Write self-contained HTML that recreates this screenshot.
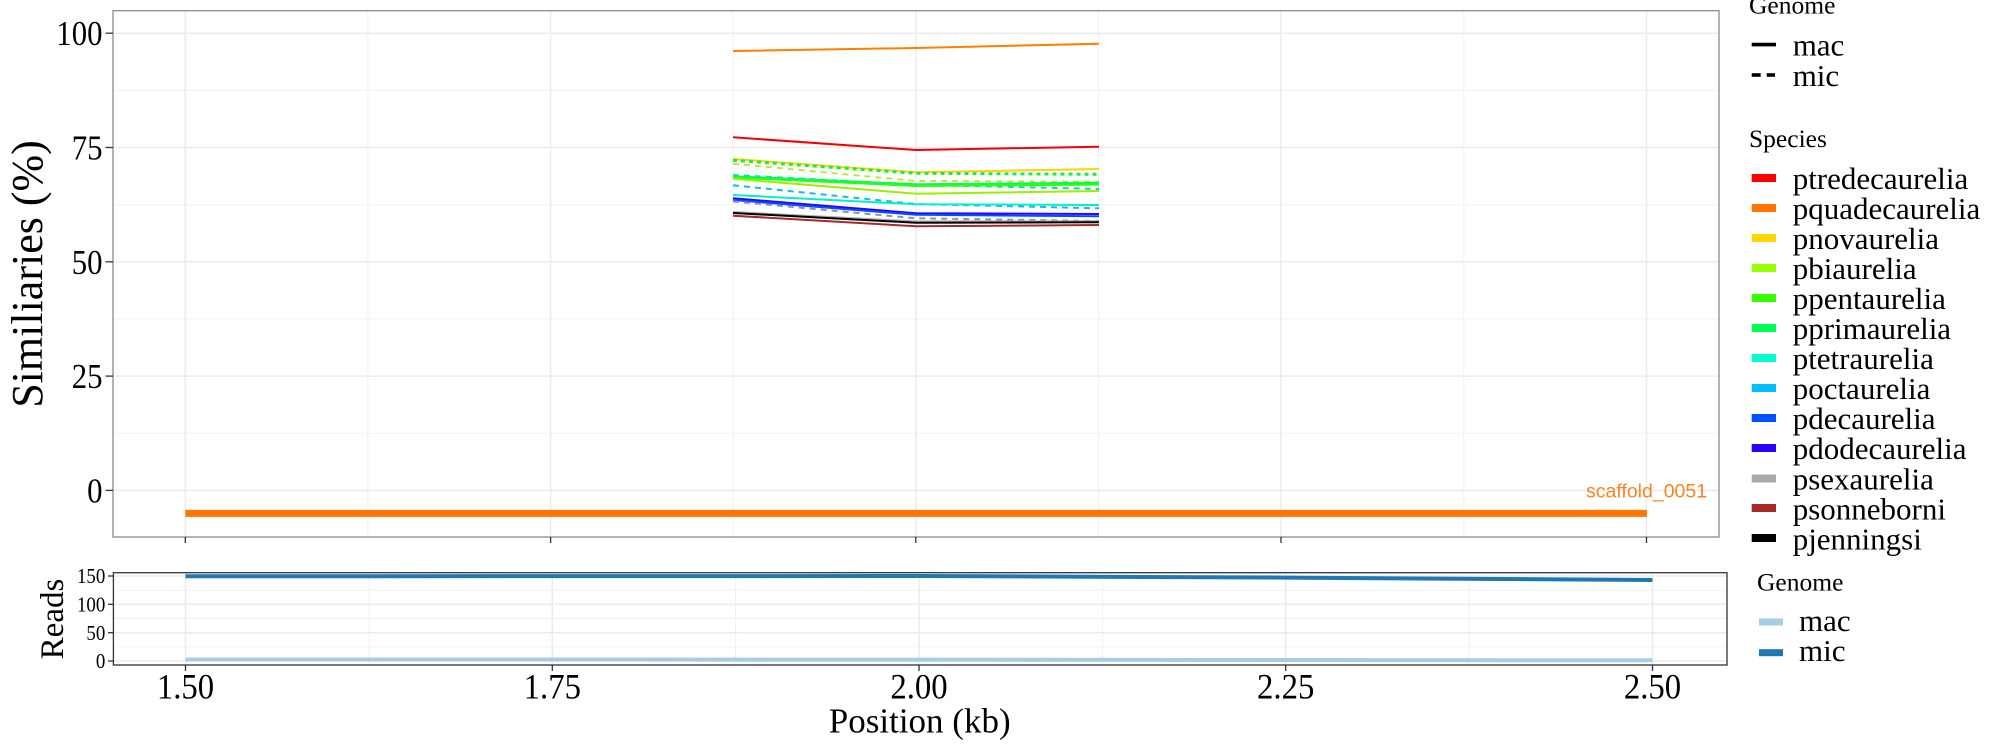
<!DOCTYPE html>
<html><head><meta charset="utf-8"><style>
html,body{margin:0;padding:0;background:#fff;}
svg{display:block;}
text{font-family:"Liberation Serif",serif;fill:#000;}
</style></head><body>
<svg width="2000" height="750" viewBox="0 0 2000 750" xmlns="http://www.w3.org/2000/svg">
<rect width="2000" height="750" fill="#fff"/>
<!-- TOP PANEL -->
<g>
<g stroke="#F0F0F0" stroke-width="0.9">
<line x1="113" y1="90.4" x2="1719" y2="90.4"/>
<line x1="113" y1="204.7" x2="1719" y2="204.7"/>
<line x1="113" y1="319" x2="1719" y2="319"/>
<line x1="113" y1="433.3" x2="1719" y2="433.3"/>
<line x1="367.9" y1="11" x2="367.9" y2="537"/>
<line x1="733" y1="11" x2="733" y2="537"/>
<line x1="1098.5" y1="11" x2="1098.5" y2="537"/>
<line x1="1463.8" y1="11" x2="1463.8" y2="537"/>
</g>
<g stroke="#EBEBEB" stroke-width="1.5">
<line x1="113" y1="33.2" x2="1719" y2="33.2"/>
<line x1="113" y1="147.5" x2="1719" y2="147.5"/>
<line x1="113" y1="261.8" x2="1719" y2="261.8"/>
<line x1="113" y1="376.1" x2="1719" y2="376.1"/>
<line x1="113" y1="490.4" x2="1719" y2="490.4"/>
<line x1="185.3" y1="11" x2="185.3" y2="537"/>
<line x1="550.6" y1="11" x2="550.6" y2="537"/>
<line x1="915.8" y1="11" x2="915.8" y2="537"/>
<line x1="1281" y1="11" x2="1281" y2="537"/>
<line x1="1646.5" y1="11" x2="1646.5" y2="537"/>
</g>
<line x1="185.3" y1="513.4" x2="1647" y2="513.4" stroke="#FF7700" stroke-width="7"/>
<text x="1586" y="497.5" style="font-family:'Liberation Sans',sans-serif;font-size:19.5px;fill:#F5862A;">scaffold_0051</text>
<g fill="none" stroke-width="2" stroke-linejoin="round">
<polyline points="733,51 916,48 1099,43.7" stroke="#FF7F00"/>
<polyline points="733,137.3 916,150 1099,146.7" stroke="#F20000"/>
<polyline points="733,159 916,172.3 1099,169" stroke="#FFD200"/>
<polyline points="733,163.7 916,181 1099,181.7" stroke="#C8E040" stroke-dasharray="6,5"/>
<polyline points="733,175 916,184.7 1099,189" stroke="#10D8C0" stroke-dasharray="6,5"/>
<polyline points="733,177.3 916,185.7 1099,184.3" stroke="#33FF00" stroke-width="2.6"/>
<polyline points="733,176.3 916,184.2 1099,182.8" stroke="#00FF55"/>
<polyline points="733,178.8 916,193.7 1099,191" stroke="#99F000"/>
<polyline points="733,185.3 916,204 1099,208.3" stroke="#1AB8E8" stroke-dasharray="6,5"/>
<polyline points="733,195 916,204.3 1099,205" stroke="#00F0C8"/>
<polyline points="733,198.3 916,213.3 1099,214" stroke="#2B00FF"/>
<polyline points="733,200 916,214.8 1099,216.3" stroke="#0050FF"/>
<polyline points="733,201.5 916,218.3 1099,221" stroke="#9090B0" stroke-dasharray="6,5"/>
<polyline points="733,212 916,221.5 1099,221.3" stroke="#A9A9A9"/>
<polyline points="733,213 916,222.7 1099,222.3" stroke="#000000"/>
<polyline points="733,215.7 916,226.3 1099,225" stroke="#A52A2A"/>
<polyline points="733,160.3 916,173.3 1099,174.3" stroke="#10F040" stroke-width="3" stroke-dasharray="4,4"/>
</g>
<rect x="113" y="10.7" width="1606" height="526.3" fill="none" stroke="#8A8A8A" stroke-width="1.3"/>
<g stroke="#333" stroke-width="1.3">
<line x1="105.5" y1="33.2" x2="113" y2="33.2"/>
<line x1="105.5" y1="147.5" x2="113" y2="147.5"/>
<line x1="105.5" y1="261.8" x2="113" y2="261.8"/>
<line x1="105.5" y1="376.1" x2="113" y2="376.1"/>
<line x1="105.5" y1="490.4" x2="113" y2="490.4"/>
<line x1="185.3" y1="537" x2="185.3" y2="543"/>
<line x1="550.6" y1="537" x2="550.6" y2="543"/>
<line x1="915.8" y1="537" x2="915.8" y2="543"/>
<line x1="1281" y1="537" x2="1281" y2="543"/>
<line x1="1646.5" y1="537" x2="1646.5" y2="543"/>
</g>
<g style="font-size:35px;" text-anchor="end">
<text transform="translate(102.5,45.2) scale(0.88,1)">100</text>
<text transform="translate(102.5,159.5) scale(0.88,1)">75</text>
<text transform="translate(102.5,273.8) scale(0.88,1)">50</text>
<text transform="translate(102.5,388.1) scale(0.88,1)">25</text>
<text transform="translate(102.5,502.4) scale(0.88,1)">0</text>
</g>
<text transform="translate(42,274) rotate(-90)" text-anchor="middle" style="font-size:44px;">Similiaries (%)</text>
</g>
<!-- TOP LEGEND -->
<g>
<text x="1749" y="13.5" style="font-size:25.5px;">Genome</text>
<line x1="1751.7" y1="44.6" x2="1776" y2="44.6" stroke="#000" stroke-width="3.6"/>
<line x1="1751.7" y1="75" x2="1760.7" y2="75" stroke="#000" stroke-width="3.6"/>
<line x1="1766.7" y1="75" x2="1775" y2="75" stroke="#000" stroke-width="3.6"/>
<g style="font-size:31px;">
<text x="1792.7" y="55.6">mac</text>
<text x="1792.7" y="85.8">mic</text>
</g>
<text x="1749" y="147" style="font-size:25.5px;">Species</text>
<g>
<rect x="1751.7" y="174" width="24.3" height="8" fill="#FF0000"/>
<rect x="1751.7" y="204" width="24.3" height="8" fill="#FF7700"/>
<rect x="1751.7" y="234" width="24.3" height="8" fill="#FFD700"/>
<rect x="1751.7" y="264" width="24.3" height="8" fill="#99FF00"/>
<rect x="1751.7" y="294" width="24.3" height="8" fill="#33FF00"/>
<rect x="1751.7" y="324" width="24.3" height="8" fill="#00FF55"/>
<rect x="1751.7" y="354" width="24.3" height="8" fill="#00FFCC"/>
<rect x="1751.7" y="384" width="24.3" height="8" fill="#00BFFF"/>
<rect x="1751.7" y="414" width="24.3" height="8" fill="#0050FF"/>
<rect x="1751.7" y="444" width="24.3" height="8" fill="#2B00FF"/>
<rect x="1751.7" y="474.5" width="24.3" height="8" fill="#A9A9A9"/>
<rect x="1751.7" y="504" width="24.3" height="8" fill="#A52A2A"/>
<rect x="1751.7" y="534" width="24.3" height="8" fill="#000000"/>
</g>
<g style="font-size:31px;">
<text x="1792.7" y="188.8">ptredecaurelia</text>
<text x="1792.7" y="218.9">pquadecaurelia</text>
<text x="1792.7" y="248.9">pnovaurelia</text>
<text x="1792.7" y="278.9">pbiaurelia</text>
<text x="1792.7" y="309">ppentaurelia</text>
<text x="1792.7" y="339">pprimaurelia</text>
<text x="1792.7" y="369">ptetraurelia</text>
<text x="1792.7" y="399.1">poctaurelia</text>
<text x="1792.7" y="429.1">pdecaurelia</text>
<text x="1792.7" y="459.2">pdodecaurelia</text>
<text x="1792.7" y="489.4">psexaurelia</text>
<text x="1792.7" y="519.3">psonneborni</text>
<text x="1792.7" y="549.3">pjenningsi</text>
</g>
</g>
<!-- BOTTOM PANEL -->
<g>
<g stroke="#F0F0F0" stroke-width="0.9">
<line x1="113.4" y1="590.2" x2="1727" y2="590.2"/>
<line x1="113.4" y1="618.5" x2="1727" y2="618.5"/>
<line x1="113.4" y1="646.8" x2="1727" y2="646.8"/>
<line x1="368.9" y1="573" x2="368.9" y2="665"/>
<line x1="735.6" y1="573" x2="735.6" y2="665"/>
<line x1="1102.4" y1="573" x2="1102.4" y2="665"/>
<line x1="1469" y1="573" x2="1469" y2="665"/>
</g>
<g stroke="#EBEBEB" stroke-width="1.5">
<line x1="113.4" y1="576" x2="1727" y2="576"/>
<line x1="113.4" y1="604.3" x2="1727" y2="604.3"/>
<line x1="113.4" y1="632.7" x2="1727" y2="632.7"/>
<line x1="113.4" y1="661" x2="1727" y2="661"/>
<line x1="185.5" y1="573" x2="185.5" y2="665"/>
<line x1="552.3" y1="573" x2="552.3" y2="665"/>
<line x1="919" y1="573" x2="919" y2="665"/>
<line x1="1285.7" y1="573" x2="1285.7" y2="665"/>
<line x1="1652.5" y1="573" x2="1652.5" y2="665"/>
</g>
<polyline points="185.5,659.5 919,659.6 1285.7,660 1652.5,660.3" fill="none" stroke="#A6CEE3" stroke-width="4"/>
<polyline points="185.5,576.3 919,576 1285.7,577.6 1652.5,580" fill="none" stroke="#1F78B4" stroke-width="4"/>
<rect x="113.4" y="572.7" width="1613.6" height="92.3" fill="none" stroke="#333" stroke-width="1.3"/>
<g stroke="#333" stroke-width="1.3">
<line x1="108" y1="576" x2="113.4" y2="576"/>
<line x1="108" y1="604.3" x2="113.4" y2="604.3"/>
<line x1="108" y1="632.7" x2="113.4" y2="632.7"/>
<line x1="108" y1="661" x2="113.4" y2="661"/>
<line x1="185.5" y1="665" x2="185.5" y2="671"/>
<line x1="552.3" y1="665" x2="552.3" y2="671"/>
<line x1="919" y1="665" x2="919" y2="671"/>
<line x1="1285.7" y1="665" x2="1285.7" y2="671"/>
<line x1="1652.5" y1="665" x2="1652.5" y2="671"/>
</g>
<g style="font-size:21px;" text-anchor="end">
<text transform="translate(105.3,583.2) scale(0.9,1)">150</text>
<text transform="translate(105.3,611.5) scale(0.9,1)">100</text>
<text transform="translate(105.3,639.9) scale(0.9,1)">50</text>
<text transform="translate(105.3,668.2) scale(0.9,1)">0</text>
</g>
<text transform="translate(63,619) rotate(-90)" text-anchor="middle" style="font-size:33px;">Reads</text>
<g style="font-size:36px;" text-anchor="middle">
<text transform="translate(185.5,698.5) scale(0.91,1)">1.50</text>
<text transform="translate(552.3,698.5) scale(0.91,1)">1.75</text>
<text transform="translate(919,698.5) scale(0.91,1)">2.00</text>
<text transform="translate(1285.7,698.5) scale(0.91,1)">2.25</text>
<text transform="translate(1652.5,698.5) scale(0.91,1)">2.50</text>
</g>
<text x="919.7" y="732.7" text-anchor="middle" style="font-size:35px;">Position (kb)</text>
</g>
<!-- BOTTOM LEGEND -->
<g>
<text x="1757" y="590.7" style="font-size:25.5px;">Genome</text>
<rect x="1759" y="618.5" width="24" height="7" fill="#A6CEE3"/>
<rect x="1759" y="649.2" width="24" height="7" fill="#1F78B4"/>
<g style="font-size:31px;">
<text x="1799" y="631.2">mac</text>
<text x="1799" y="660.9">mic</text>
</g>
</g>
</svg>
</body></html>
